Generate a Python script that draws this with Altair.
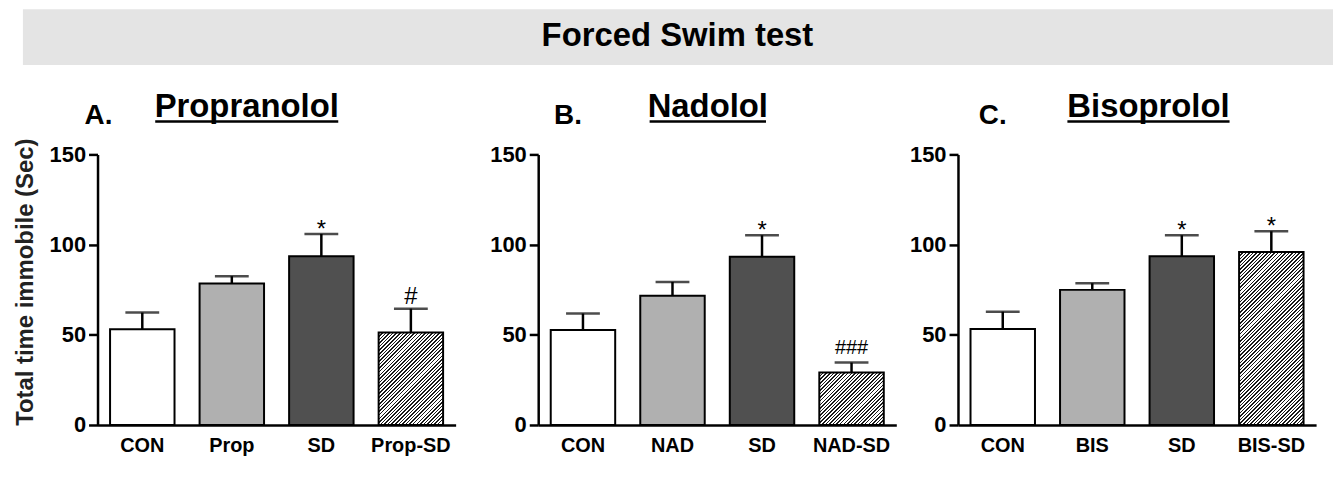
import altair as alt
import pandas as pd

# ---------------- data ----------------
FIG_TITLE = "Forced Swim test"
PANEL_LETTERS = ["A.", "B.", "C."]
DRUGS = ["Propranolol", "Nadolol", "Bisoprolol"]
Y_TITLE = "Total time immobile (Sec)"
Y_TICKS = [0, 50, 100, 150]
KINDS = ["control", "drug", "sd", "combo"]

GROUPS_A = ["CON", "Prop", "SD", "Prop-SD"]
MEANS_A = [53.1, 78.5, 93.6, 51.3]
SEMS_A = [9.2, 4.0, 12.3, 13.2]
SIG_A = ["", "", "*", "#"]

GROUPS_B = ["CON", "NAD", "SD", "NAD-SD"]
MEANS_B = [52.6, 71.6, 93.2, 29.1]
SEMS_B = [9.2, 7.7, 12.0, 5.5]
SIG_B = ["", "", "*", "###"]

GROUPS_C = ["CON", "BIS", "SD", "BIS-SD"]
MEANS_C = [53.2, 74.9, 93.6, 95.9]
SEMS_C = [9.6, 3.7, 11.6, 11.5]
SIG_C = ["", "", "*", "*"]

# ---------------- style ----------------
FONT = "Liberation Sans"
W, H = 360, 272
PAD_IN, PAD_OUT = 0.28, 0.14
YMAX = 150
FILLS = {"control": "white", "drug": "#b0b0b0", "sd": "#505050"}
SIG_STYLE = {"*": (24, 3), "#": (24, -5), "###": (20, -9)}


def hatch_fill(mean):
    step = W / (4 - PAD_IN + 2 * PAD_OUT)
    bw = step * (1 - PAD_IN)
    bh = mean / YMAX * H
    c = (bw + bh) / (bw ** 2 + bh ** 2)
    period = 3.6 / (bw + bh)
    stops = []
    k = 0
    while k * period < 1:
        s = k * period
        a = min(s + 0.42 * period, 1)
        b = min(s + period, 1)
        stops += [alt.GradientStop(color="#1a1a1a", offset=s),
                  alt.GradientStop(color="#1a1a1a", offset=a),
                  alt.GradientStop(color="white", offset=a),
                  alt.GradientStop(color="white", offset=b)]
        k += 1
    return alt.LinearGradient(gradient="linear", stops=stops,
                              x1=0, y1=0, x2=c * bw, y2=c * bh)


def panel(groups, means, sems, sigs, extent, ytitle, letter, drug,
          letter_x, drug_span):
    df = pd.DataFrame({
        "group": groups, "mean": means,
        "top": [m + s for m, s in zip(means, sems)],
        "sig": sigs, "kind": KINDS,
    })
    axis_kw = dict(values=Y_TICKS, labelFontSize=22, labelFontWeight="bold",
                   labelColor="black", labelFont=FONT, labelPadding=3,
                   tickSize=9, tickWidth=2.5, tickColor="black",
                   domainColor="black", domainWidth=2.5, grid=False,
                   minExtent=extent, maxExtent=extent)
    if ytitle:
        yaxis = alt.Axis(title=ytitle, titleFontSize=24, titleFontWeight="bold",
                         titleColor="#222", titleFont=FONT, titlePadding=14,
                         titleX=-60, titleY=128, **axis_kw)
    else:
        yaxis = alt.Axis(title=None, **axis_kw)
    xaxis = alt.Axis(title=None, labelAngle=0, ticks=False, labelFontSize=20,
                     labelFontWeight="bold", labelColor="black", labelFont=FONT,
                     labelPadding=11, domainColor="black", domainWidth=2.5)
    x = alt.X("group:N", sort=groups, axis=xaxis,
              scale=alt.Scale(paddingInner=PAD_IN, paddingOuter=PAD_OUT))
    yscale = alt.Scale(domain=[0, YMAX], nice=False)

    def Y(field):
        return alt.Y(f"{field}:Q", scale=yscale, axis=yaxis)

    base = alt.Chart(df)
    bars = base.transform_filter("datum.kind != 'combo'").mark_bar(
        stroke="black", strokeWidth=2).encode(
        x=x, y=Y("mean"),
        fill=alt.Fill("kind:N", legend=None,
                      scale=alt.Scale(domain=list(FILLS.keys()),
                                      range=list(FILLS.values()))))
    hatch = base.transform_filter("datum.kind == 'combo'").mark_bar(
        stroke="black", strokeWidth=2, fill=hatch_fill(means[3])).encode(
        x=x, y=Y("mean"))
    err = base.mark_rule(color="black", strokeWidth=2.5).encode(
        x=x, y=Y("mean"), y2="top:Q")
    cap = base.mark_tick(color="black", size=34, thickness=2.5).encode(
        x=x, y=Y("top"))
    layers = [bars, hatch, err, cap]
    for sig, (fs, dy) in SIG_STYLE.items():
        layers.append(
            base.transform_filter(f"datum.sig == '{sig}'").mark_text(
                font=FONT, fontSize=fs, dy=dy, baseline="alphabetic",
                color="black").encode(x=x, y=Y("top"), text="sig:N"))

    # panel heading (letter + underlined drug name), placed above the plot
    head = alt.Chart(pd.DataFrame({"letter": [letter], "drug": [drug]}))
    x0, x1 = drug_span
    layers.append(head.mark_text(
        font=FONT, fontSize=28, fontWeight="bold", color="black",
        baseline="alphabetic", align="left").encode(
        x=alt.value(letter_x), y=alt.value(-31), text="letter:N"))
    layers.append(head.mark_text(
        font=FONT, fontSize=33, fontWeight="bold", color="black",
        baseline="alphabetic", align="center").encode(
        x=alt.value((x0 + x1) / 2), y=alt.value(-38), text="drug:N"))
    layers.append(head.mark_rule(color="black", strokeWidth=2.5).encode(
        x=alt.value(x0), x2=alt.value(x1), y=alt.value(-33)))
    return alt.layer(*layers).properties(width=W, height=H)


pA = panel(GROUPS_A, MEANS_A, SEMS_A, SIG_A, 50, Y_TITLE,
           PANEL_LETTERS[0], DRUGS[0], -13, (58, 242))
pB = panel(GROUPS_B, MEANS_B, SEMS_B, SIG_B, 73, None,
           PANEL_LETTERS[1], DRUGS[1], 16, (112, 229))
pC = panel(GROUPS_C, MEANS_C, SEMS_C, SIG_C, 52, None,
           PANEL_LETTERS[2], DRUGS[2], 21, (110, 273))

# ---------------- banner ----------------
# banner origin is aligned with panel A's plot origin (page x ~95)
BW = 1225
bdf = pd.DataFrame({"t": [FIG_TITLE]})
banner = alt.layer(
    alt.Chart(bdf).mark_rect(color="#e4e4e4").encode(
        x=alt.value(-75), x2=alt.value(1242), y=alt.value(0), y2=alt.value(56)),
    alt.Chart(bdf).mark_text(
        font=FONT, fontSize=33, fontWeight="bold", color="black",
        baseline="middle", align="center").encode(
        x=alt.value(583), y=alt.value(27), text="t:N"),
).properties(width=BW, height=56)

chart = alt.vconcat(
    banner,
    alt.hconcat(pA, pB, pC, spacing=10),
    spacing=26,
).properties(
    padding={"left": 5, "top": 0, "right": 0, "bottom": 0},
    background="white",
).configure(font=FONT).configure_view(stroke="transparent", strokeWidth=0)

chart.save("out.html", embed_options={"renderer": "svg", "actions": False})
